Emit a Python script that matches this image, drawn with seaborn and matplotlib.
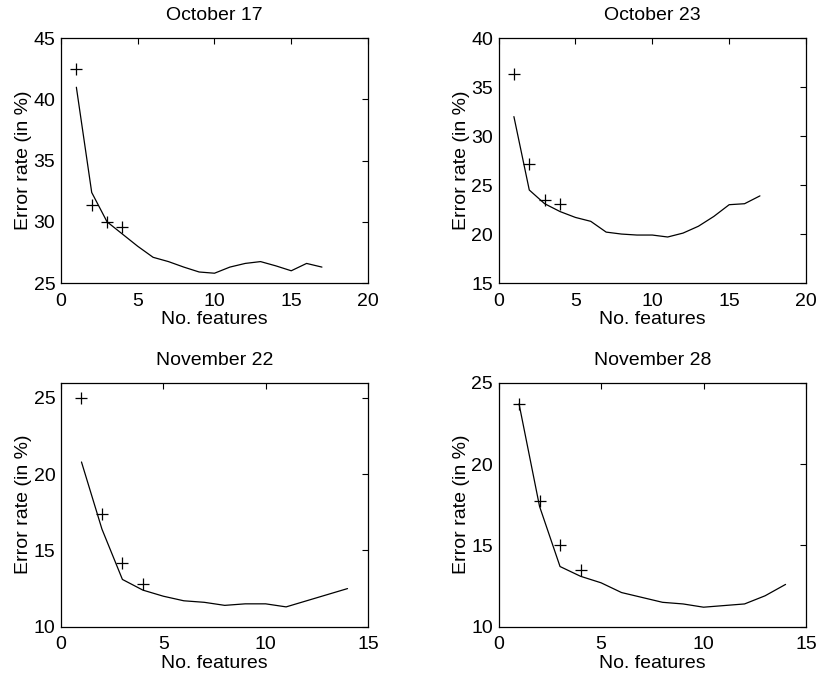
import numpy as np
import pandas as pd
import matplotlib
matplotlib.use('Agg')
import matplotlib.pyplot as plt
import seaborn as sns

# curves: error rate vs number of features
oct17_x = list(range(1, 18))
oct17_y = [41.0, 32.4, 30.0, 29.0, 28.0, 27.1, 26.75, 26.3, 25.9, 25.8,
           26.3, 26.6, 26.75, 26.4, 26.0, 26.6, 26.3]
oct17_px = [1, 2, 3, 4]
oct17_py = [42.5, 31.4, 30.0, 29.6]

oct23_x = list(range(1, 18))
oct23_y = [32.0, 24.5, 23.1, 22.3, 21.7, 21.3, 20.2, 20.0, 19.9, 19.9,
           19.7, 20.1, 20.8, 21.8, 23.0, 23.1, 23.9]
oct23_px = [1, 2, 3, 4]
oct23_py = [36.4, 27.2, 23.5, 23.1]

nov22_x = list(range(1, 15))
nov22_y = [20.8, 16.4, 13.1, 12.4, 12.0, 11.7, 11.6, 11.4, 11.5, 11.5,
           11.3, 11.7, 12.1, 12.5]
nov22_px = [1, 2, 3, 4]
nov22_py = [25.0, 17.4, 14.2, 12.8]

nov28_x = list(range(1, 15))
nov28_y = [23.7, 17.4, 13.7, 13.1, 12.7, 12.1, 11.8, 11.5, 11.4, 11.2,
           11.3, 11.4, 11.9, 12.6]
nov28_px = [1, 2, 3, 4]
nov28_py = [23.7, 17.75, 15.0, 13.5]

titles = ['October 17', 'October 23', 'November 22', 'November 28']
xlims = [(0, 20), (0, 20), (0, 15), (0, 15)]
ylims = [(25, 45), (15, 40), (10, 26), (10, 25)]
yticks = [[25, 30, 35, 40, 45], [15, 20, 25, 30, 35, 40], [10, 15, 20, 25], [10, 15, 20, 25]]

sns.set_style('white')
plt.rcParams['font.family'] = ['Liberation Sans', 'DejaVu Sans']
plt.rcParams['text.color'] = 'black'
plt.rcParams['axes.labelcolor'] = 'black'
plt.rcParams['xtick.color'] = 'black'
plt.rcParams['ytick.color'] = 'black'

fig = plt.figure(figsize=(8.19, 6.79), dpi=100)
boxes = [[0.0745, 0.5832, 0.3748, 0.3604],
         [0.6087, 0.5832, 0.3755, 0.3604],
         [0.0745, 0.0770, 0.3748, 0.3594],
         [0.6087, 0.0770, 0.3755, 0.3594]]

data = [(oct17_x, oct17_y, oct17_px, oct17_py),
        (oct23_x, oct23_y, oct23_px, oct23_py),
        (nov22_x, nov22_y, nov22_px, nov22_py),
        (nov28_x, nov28_y, nov28_px, nov28_py)]

fs = 14
for i, (lx, ly, px, py) in enumerate(data):
    ax = fig.add_axes(boxes[i])
    sns.lineplot(x=lx, y=ly, color='black', linewidth=0.9, ax=ax)
    sns.scatterplot(x=px, y=py, marker='+', color='black', s=70,
                    linewidth=0.9, ax=ax)
    ax.set_xlim(xlims[i])
    ax.set_ylim(ylims[i])
    ax.set_yticks(yticks[i])
    ax.set_title(titles[i], fontsize=fs, pad=13)
    ax.set_xlabel('No. features', fontsize=fs, labelpad=1)
    ax.set_ylabel('Error rate (in %)', fontsize=fs, labelpad=1)
    ax.tick_params(direction='in', length=4, width=0.8, labelsize=fs,
                   top=True, right=True)
    ax.tick_params(axis='x', pad=7)
    ax.tick_params(axis='y', pad=4)
    for sp in ax.spines.values():
        sp.set_linewidth(0.9)
        sp.set_color('black')

fig.savefig('out.png', dpi=100)
